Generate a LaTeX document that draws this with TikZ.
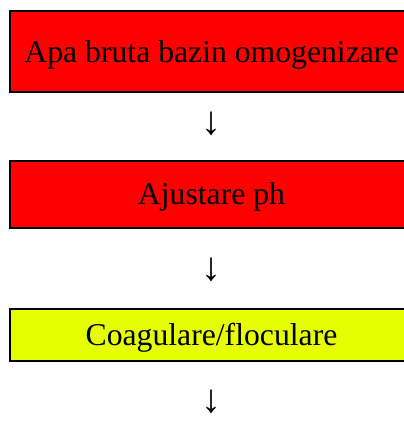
\documentclass[tikz,border=0pt]{standalone}
\usepackage{fontspec}
\setmainfont{Liberation Serif}
\definecolor{boxred}{RGB}{255,0,0}
\definecolor{boxyellow}{RGB}{230,255,0}
\tikzset{
  x=1pt, y=1pt,
  stepbox/.style={draw=black, line width=2.3pt, minimum width=403pt, inner sep=0pt,
    text height=21pt, text depth=0pt, font=\fontsize{31.7}{38}\selectfont},
  arrowtext/.style={inner sep=0pt, font=\fontsize{40}{46}\selectfont}
}
\begin{document}
\begin{tikzpicture}
\useasboundingbox (0,0) rectangle (404,-421);
\clip (0,0) rectangle (404,-421);
\node[stepbox, fill=boxred, minimum height=81pt] (b1) at (211.5,-51.5) {Apa bruta bazin omogenizare};
\node[arrowtext] (a1) at (211.7,-123.5) {↓};
\node[stepbox, fill=boxred, minimum height=66.7pt] (b2) at (211.5,-194.3) {Ajustare ph};
\node[arrowtext] (a2) at (211.7,-270) {↓};
\node[stepbox, fill=boxyellow, minimum height=52pt] (b3) at (211.5,-335.3) {Coagulare/floculare};
\node[arrowtext] (a3) at (211.7,-402) {↓};
\end{tikzpicture}
\end{document}
